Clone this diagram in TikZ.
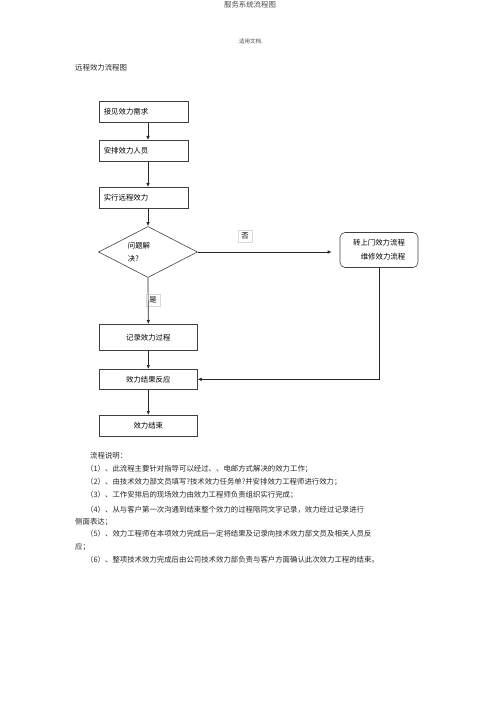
\documentclass[tikz,border=0pt]{standalone}
\usepackage{fontspec}
\newfontfamily\cjk{Noto Sans CJK SC}
\usetikzlibrary{shapes.geometric,arrows.meta}
\begin{document}
\begin{tikzpicture}[x=1pt,y=-1pt,
  every node/.style={font=\cjk\fontsize{7.4}{9}\selectfont},
  stepbox/.style={draw=black!75,line width=0.6pt,minimum height=21pt,inner sep=0pt},
  lab/.style={draw=black!15,line width=0.4pt,inner sep=3pt},
  conn/.style={draw=black!85,line width=0.7pt,-{Latex[length=4pt,width=3.5pt]}},
  txt/.style={anchor=west,inner sep=0pt,text=black!85}]
\useasboundingbox (0,0) rectangle (500,708);
\node[text=black!70] (title) at (250,5) {服务系统流程图};
\node[text=black!70,font=\cjk\fontsize{5.5}{7}\selectfont] (doc) at (250,41) {.适用文档.};
\node[txt] (head) at (75,68) {远程效力流程图};

\node[stepbox,minimum width=89pt,anchor=north west,text width=80pt,align=left] (b1) at (99,101) {接见效力需求};
\node[stepbox,minimum width=89pt,anchor=north west,text width=80pt,align=left] (b2) at (99,140) {安排效力人员};
\node[stepbox,minimum width=89pt,anchor=north west,text width=80pt,align=left] (b3) at (99,187) {实行远程效力};
\node[draw=black!75,line width=0.6pt,diamond,minimum width=99pt,minimum height=51pt,inner sep=0pt,aspect=1.9] (d) at (148,252) {};
\node[align=left,font=\cjk\fontsize{7.4}{13}\selectfont] (dt) at (139,252) {问题解\\决?};
\node[lab] (no) at (245,236) {否};
\node[draw=black!75,line width=0.6pt,rounded corners=5pt,minimum width=78pt,minimum height=35pt,align=center,font=\cjk\fontsize{7.4}{14}\selectfont] (r) at (379,250) {转上门效力流程\\\hspace*{8pt}维修效力流程};
\node[lab] (yes) at (153,300) {是};
\node[stepbox,minimum width=98pt,minimum height=26pt,anchor=north west] (b4) at (99,324) {记录效力过程};
\node[stepbox,minimum width=98pt,minimum height=20pt,anchor=north west] (b5) at (99,369) {效力结果反应};
\node[stepbox,minimum width=98pt,minimum height=21pt,anchor=north west] (b6) at (99,415) {效力结束};
\coordinate (c1) at (r.south |- b5.east);
\coordinate (c2) at (d.east -| r.west);

\draw[conn] (b1.south -| 148,0) -- (b2.north -| 148,0);
\draw[conn] (b2.south -| 148,0) -- (b3.north -| 148,0);
\draw[conn] (b3.south -| 148,0) -- (d.north);
\draw[conn,shorten >=8pt] (d.east) -- (c2);
\draw[conn] (d.south) -- (b4.north);
\draw[conn] (b4.south) -- (b5.north);
\draw[conn] (b5.south) -- (b6.north);
\draw[conn] (r.south) -- (c1) -- (b5.east);

\node[txt] (t0) at (90,456) {流程说明：};
\node[txt] (t1) at (86,469) {（1）、此流程主要针对指导可以经过、、电邮方式解决的效力工作；};
\node[txt] (t2) at (86,482) {（2）、由技术效力部文员填写?技术效力任务单?并安排效力工程师进行效力；};
\node[txt] (t3) at (86,495) {（3）、工作安排后的现场效力由效力工程师负责组织实行完成；};
\node[txt] (t4) at (86,510) {（4）、从与客户第一次沟通到结束整个效力的过程陪同文字记录，效力经过记录进行};
\node[txt] (t4b) at (75,522) {侧面表达；};
\node[txt] (t5) at (86,534) {（5）、效力工程师在本项效力完成后一定将结果及记录向技术效力部文员及相关人员反};
\node[txt] (t5b) at (75,547) {应；};
\node[txt] (t6) at (86,560) {（6）、整项技术效力完成后由公司技术效力部负责与客户方面确认此次效力工程的结束。};
\node[text=black!40,font=\cjk\fontsize{4}{5}\selectfont] (dot) at (250,665) {.};
\end{tikzpicture}
\end{document}
